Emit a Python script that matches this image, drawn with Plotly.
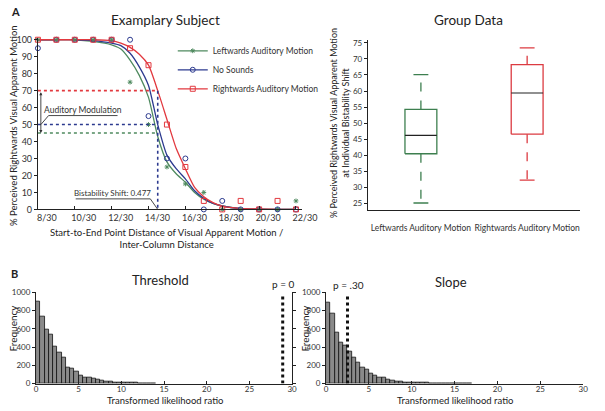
import plotly.graph_objects as go

W, H = 605, 411
FONT = "Lato"

# ---------------- Panel A (left): exemplary subject ----------------
dist_x = [8, 9, 10, 11, 12, 13, 14, 15, 16, 17, 18, 19, 20, 21, 22]
dist_ticks = [8, 10, 12, 14, 16, 18, 20, 22]
dist_tick_labels = ["8/30", "10/30", "12/30", "14/30", "16/30", "18/30", "20/30", "22/30"]

pts_left = [100, 100, 100, 100, 100, 75, 50, 25, 15, 10, 0, 0, 0, 0, 5]
pts_none = [95, 100, 100, 100, 100, 100, 55, 30, 30, 0, 5, 0, 0, 0, 0]
pts_right = [100, 100, 100, 100, 100, 95, 85, 50, 25, 5, 0, 5, 0, 5, 0]

curve_x = [8, 9, 10, 11, 12, 12.5, 13, 13.5, 14, 14.5, 15, 15.5, 16, 16.5, 17, 17.5, 18, 19, 20, 21, 22]
curve_left = [100, 100, 100, 99, 97, 94.5, 88, 79, 66, 43, 28, 21, 16, 10, 6, 3.5, 2, 0.5, 0.1, 0, 0]
curve_none = [100, 100, 100, 99.5, 98, 96.5, 92, 84, 73, 50, 32, 24, 18, 11, 6.5, 3.5, 2, 0.5, 0.1, 0, 0]
curve_right = [100, 100, 100, 100, 99.5, 98, 95.5, 91.5, 85, 70, 53, 36, 24, 13, 7.5, 4, 2, 0.6, 0.2, 0, 0]

bistability_x = 14.5
level_left, level_none, level_right = 45, 50, 70

# ---------------- Panel A (right): group data ----------------
groups = ["Leftwards Auditory Motion", "Rightwards Auditory Motion"]
box_lo = [25.2, 32.3]
box_q1 = [40.5, 46.6]
box_med = [46.2, 59.4]
box_q3 = [54.3, 68.2]
box_hi = [65.1, 73.4]

# ---------------- Panel B: permutation histograms (bin width 0.5) ----------------
threshold_counts = [900, 730, 590, 535, 410, 345, 285, 180, 165, 135, 85, 70, 65, 50, 42,
                    32, 25, 20, 15, 13, 10, 8, 7, 5, 4, 3, 3, 2]
slope_counts = [890, 765, 565, 455, 420, 350, 280, 225, 175, 155, 105, 90, 70, 62, 45,
                32, 25, 20, 15, 12, 8, 7, 6, 5, 4, 3, 3, 2, 2, 2, 1, 1, 1, 1]
threshold_observed = 28.9
slope_observed = 2.5
bin_width = 0.5

GREEN = "#4f8a5f"
BLUE = "#2c3a8f"
RED = "#e2393f"
GREEN_BOX = "#3d7f4f"
RED_BOX = "#dc3b41"


def pxx(x):
    return x / W


def pyy(y):
    return 1 - y / H


fig = go.Figure()

# curves
for cx, cy, col in [(curve_x, curve_left, GREEN), (curve_x, curve_none, BLUE), (curve_x, curve_right, RED)]:
    fig.add_trace(go.Scatter(x=cx, y=cy, mode="lines", line=dict(color=col, width=1.3, shape="spline", smoothing=0.6),
                             showlegend=False, cliponaxis=False, xaxis="x", yaxis="y", hoverinfo="skip"))
# points
for py_, col, sym, sz in [(pts_left, GREEN, "asterisk-open", 4), (pts_none, BLUE, "circle-open", 5),
                          (pts_right, RED, "square-open", 5)]:
    fig.add_trace(go.Scatter(x=dist_x, y=py_, mode="markers",
                             marker=dict(color=col, symbol=sym, size=sz, line=dict(color=col, width=1)),
                             showlegend=False, cliponaxis=False, xaxis="x", yaxis="y"))
# legend entries
for name, col, sym, sz in [("Leftwards Auditory Motion", GREEN, "asterisk-open", 4),
                           ("No Sounds", BLUE, "circle-open", 5),
                           ("Rightwards Auditory Motion", RED, "square-open", 5)]:
    fig.add_trace(go.Scatter(x=[None], y=[None], mode="lines+markers", name=name, legendgroup=name,
                             line=dict(color=col, width=1.3),
                             marker=dict(color=col, symbol=sym, size=sz, line=dict(color=col, width=1)),
                             xaxis="x", yaxis="y"))

# boxes (panel A right)
box_half = 0.15
cap_half = 0.07
for i, (col, pos) in enumerate([(GREEN_BOX, 1), (RED_BOX, 2)]):
    fig.add_trace(go.Scatter(x=[pos - box_half, pos + box_half, pos + box_half, pos - box_half, pos - box_half],
                             y=[box_q1[i], box_q1[i], box_q3[i], box_q3[i], box_q1[i]],
                             mode="lines", line=dict(color=col, width=1.3), showlegend=False,
                             xaxis="x2", yaxis="y2"))
    fig.add_trace(go.Scatter(x=[pos - box_half, pos + box_half], y=[box_med[i], box_med[i]], mode="lines",
                             line=dict(color="#222222", width=1.2), showlegend=False, xaxis="x2", yaxis="y2"))
    for a, b in [(box_q3[i], box_hi[i]), (box_q1[i], box_lo[i])]:
        fig.add_trace(go.Scatter(x=[pos, pos], y=[a, b], mode="lines", line=dict(color=col, width=1.3, dash="dash"),
                                 showlegend=False, xaxis="x2", yaxis="y2"))
    for v in (box_hi[i], box_lo[i]):
        fig.add_trace(go.Scatter(x=[pos - cap_half, pos + cap_half], y=[v, v], mode="lines",
                                 line=dict(color=col, width=1.3), showlegend=False, xaxis="x2", yaxis="y2"))

# histograms
for counts, obs, xa, ya in [(threshold_counts, threshold_observed, "x3", "y3"),
                            (slope_counts, slope_observed, "x4", "y4")]:
    centers = [bin_width * (k + 0.5) for k in range(len(counts))]
    fig.add_trace(go.Bar(x=centers, y=counts, width=bin_width, marker=dict(color="#8a8a8a",
                         line=dict(color="#111111", width=0.8)), showlegend=False, xaxis=xa, yaxis=ya))
    fig.add_trace(go.Scatter(x=[obs, obs], y=[0, 985], mode="lines", line=dict(color="#111111", width=3, dash="dot"),
                             showlegend=False, xaxis=xa, yaxis=ya, cliponaxis=False))

shapes = []
# dotted reference lines
shapes.append(dict(type="line", xref="x", yref="y", x0=8, x1=bistability_x, y0=level_right, y1=level_right,
                   line=dict(color=RED, width=1.6, dash="dot")))
shapes.append(dict(type="line", xref="x", yref="y", x0=8, x1=bistability_x, y0=level_none, y1=level_none,
                   line=dict(color=BLUE, width=1.6, dash="dot")))
shapes.append(dict(type="line", xref="x", yref="y", x0=8, x1=bistability_x - 0.05, y0=level_left, y1=level_left,
                   line=dict(color=GREEN, width=1.6, dash="dot")))
shapes.append(dict(type="line", xref="x", yref="y", x0=bistability_x, x1=bistability_x, y0=level_right, y1=0,
                   line=dict(color=BLUE, width=1.6, dash="dot")))
# annotation leader lines
shapes.append(dict(type="path", xref="x", yref="y", path="M 12.32 55.3 L 8.58 55.3 L 8.16 50",
                   line=dict(color="#333333", width=0.9)))
shapes.append(dict(type="path", xref="x", yref="y", path="M 10.05 6.2 L 14.1 6.2 L %.2f 0" % bistability_x,
                   line=dict(color="#333333", width=0.9)))

ann = []
ann.append(dict(x=8.16, y=level_left, ax=8.16, ay=level_right, xref="x", yref="y", axref="x", ayref="y",
                text="", showarrow=True, arrowhead=2, arrowside="end+start", arrowsize=0.7, arrowwidth=0.9,
                arrowcolor="#333333"))
ann.append(dict(x=10.45, y=55.3, xref="x", yref="y", text="Auditory Modulation", showarrow=False,
                yanchor="bottom", font=dict(size=8.5, color="#333333"), yshift=-1))
ann.append(dict(x=12.07, y=6.2, xref="x", yref="y", text="Bistability Shift: 0.477", showarrow=False,
                yanchor="bottom", font=dict(size=8, color="#333333"), yshift=-1))


def txt(x, y, s, size, rot=0, bold=False, xa="center"):
    ann.append(dict(x=pxx(x), y=pyy(y), xref="paper", yref="paper", text=("<b>%s</b>" % s) if bold else s,
                    showarrow=False, textangle=rot, xanchor=xa, yanchor="middle",
                    font=dict(size=size, color="#222222", family=FONT)))


txt(7, 8, "A", 11, bold=True, xa="left")
txt(7, 276, "B", 11, bold=True, xa="left")
txt(168, 16, "Examplary Subject", 13.5)
txt(481, 16, "Group Data", 13.5)
txt(163, 282, "Threshold", 13)
txt(463, 284, "Slope", 13)
txt(290, 286, "p = 0", 10)
txt(357, 287, "p = .30", 10)
txt(12, 124, "% Perceived Rightwards Visual Apparent Motion", 9.5, rot=-90)
txt(170, 240, "Start-to-End Point Distance of Visual Apparent Motion /<br>Inter-Column Distance", 9.5)
txt(348, 122, "% Perceived Rightwards Visual Apparent Motion<br>at Individual Bistability Shift", 9, rot=-90)
txt(11, 331, "Frequency", 10, rot=-90)
txt(312, 331, "Frequency", 10, rot=-90)
txt(168, 405.5, "Transformed likelihood ratio", 9.5)
txt(467, 405.5, "Transformed likelihood ratio", 9.5)

axis_common = dict(showgrid=False, zeroline=False, showline=True, linecolor="#222222", linewidth=1,
                   tickcolor="#222222", ticklen=3, tickwidth=1)
tf = dict(size=8.5, color="#333333")
tfh = dict(size=8, color="#333333")

fig.update_layout(
    width=W, height=H, margin=dict(l=0, r=0, t=0, b=0),
    paper_bgcolor="white", plot_bgcolor="white",
    font=dict(family=FONT, color="#222222"),
    showlegend=True,
    legend=dict(x=pxx(176), y=pyy(33), xanchor="left", yanchor="top", bgcolor="rgba(0,0,0,0)",
                font=dict(size=8.5, color="#333333"), tracegroupgap=0, itemwidth=30),
    barmode="overlay", bargap=0,
    xaxis=dict(domain=[pxx(37), pxx(308.7)], range=[8, 22.3], tickvals=dist_ticks, ticktext=dist_tick_labels,
               ticks="inside", ticklabelshift=9, anchor="y", tickfont=dict(size=9, color="#333333"), **axis_common),
    yaxis=dict(domain=[pyy(210), pyy(34.8)], range=[0, 101], tickvals=list(range(0, 101, 10)), ticks="outside",
               anchor="x", tickfont=dict(size=9, color="#333333"), **axis_common),
    xaxis2=dict(domain=[pxx(377), pxx(596)], range=[0.5, 2.5], tickvals=[1, 2], ticktext=groups, ticks="",
                ticklabelstandoff=9, anchor="y2", tickfont=tf, **axis_common),
    yaxis2=dict(domain=[pyy(211), pyy(36.4)], range=[22.9, 76], tickvals=list(range(25, 76, 5)), ticks="outside",
                anchor="x2", tickfont=dict(size=8, color="#333333"), **axis_common),
    xaxis3=dict(domain=[pxx(35), pxx(299)], range=[0, 30], tickvals=list(range(0, 31, 5)), ticks="inside",
                ticklabelstandoff=-2, anchor="y3", tickfont=tfh, **axis_common),
    yaxis3=dict(domain=[pyy(388), pyy(294)], range=[0, 1010], tickvals=list(range(0, 1001, 200)), ticks="outside",
                mirror="ticks", anchor="x3", tickfont=dict(size=8, color="#333333"), **axis_common),
    xaxis4=dict(domain=[pxx(334), pxx(599)], range=[0, 30], tickvals=list(range(0, 31, 5)), ticks="inside",
                ticklabelstandoff=-2, anchor="y4", tickfont=tfh, **axis_common),
    yaxis4=dict(domain=[pyy(388), pyy(294)], range=[0, 1010], tickvals=list(range(0, 1001, 200)), ticks="outside",
                anchor="x4", tickfont=dict(size=8, color="#333333"), **axis_common),
    shapes=shapes, annotations=ann,
)

fig.write_html("out.html", config={"displayModeBar": False},
               post_script="document.body.style.margin='0px';document.body.style.padding='0px';")
